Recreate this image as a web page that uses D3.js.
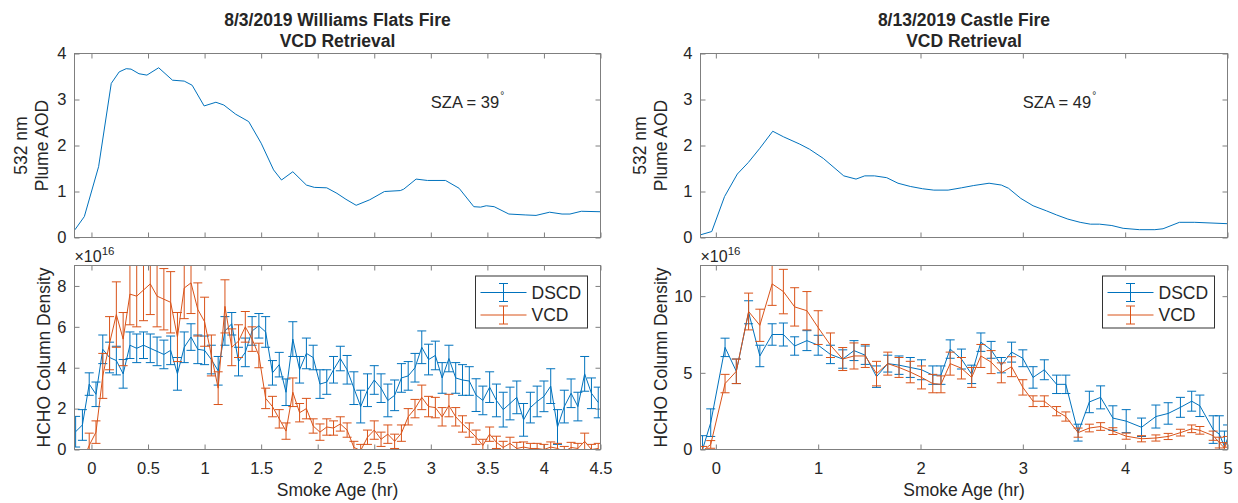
<!DOCTYPE html>
<html><head><meta charset="utf-8">
<script src="https://cdn.jsdelivr.net/npm/d3@7/dist/d3.min.js"></script>
<style>
body{margin:0;background:#fff}
text{font-family:"Liberation Sans",Arial,Helvetica,sans-serif;fill:#262626}
</style>
</head><body>
<svg id="c" width="1238" height="503"></svg>
<script>
// ---------------- DATA ----------------
const titles = [["8/3/2019 Williams Flats Fire","VCD Retrieval"],["8/13/2019 Castle Fire","VCD Retrieval"]];
const szaLabels = ["SZA = 39","SZA = 49"];
const legendLabels = ["DSCD","VCD"];

const wfXTicks = [0,0.5,1,1.5,2,2.5,3,3.5,4,4.5];
const cfXTicks = [0,1,2,3,4,5];
const aodYTicks = [0,1,2,3,4];
const wfHchoYTicks = [0,2,4,6,8];
const cfHchoYTicks = [0,5,10];

// Plume AOD, Williams Flats
const wfAodAge = [-0.147,-0.063,0.063,0.175,0.245,0.307,0.35,0.42,0.49,0.594,0.716,0.82,0.89,0.996,1.10,1.17,1.275,1.39,1.50,1.61,1.68,1.78,1.90,1.97,2.08,2.17,2.25,2.34,2.46,2.59,2.73,2.76,2.87,2.97,3.13,3.25,3.38,3.44,3.49,3.56,3.69,3.84,3.93,4.05,4.16,4.23,4.33,4.5];
const wfAod = [0.166,0.455,1.54,3.35,3.6,3.67,3.66,3.56,3.53,3.69,3.42,3.40,3.31,2.86,2.94,2.88,2.68,2.52,2.05,1.47,1.25,1.43,1.14,1.09,1.08,0.96,0.83,0.70,0.82,1.00,1.02,1.05,1.27,1.24,1.24,1.07,0.67,0.66,0.69,0.67,0.51,0.49,0.48,0.55,0.51,0.51,0.57,0.56];

// Plume AOD, Castle
const cfAodAge = [-0.147,-0.04,0.085,0.21,0.317,0.43,0.556,0.66,0.82,0.915,1.05,1.25,1.37,1.455,1.55,1.67,1.78,1.90,2.02,2.13,2.27,2.40,2.52,2.67,2.79,2.86,2.98,3.10,3.23,3.33,3.44,3.56,3.66,3.75,3.87,3.98,4.14,4.29,4.37,4.53,4.68,5.0];
const cfAod = [0.06,0.13,0.89,1.38,1.63,1.94,2.31,2.19,2.03,1.92,1.72,1.34,1.27,1.34,1.34,1.30,1.18,1.11,1.06,1.03,1.03,1.08,1.13,1.18,1.14,1.07,0.85,0.69,0.58,0.49,0.40,0.33,0.29,0.29,0.26,0.20,0.17,0.17,0.19,0.33,0.33,0.30];

// HCHO (x1e16), Williams Flats
const wfAge = [-0.14,-0.08,-0.02,0.04,0.10,0.16,0.22,0.28,0.34,0.40,
 0.46,0.52,0.58,0.64,0.70,0.76,0.82,0.88,0.94,1.00,
 1.06,1.12,1.18,1.24,1.30,1.36,1.42,1.48,1.54,1.60,
 1.66,1.72,1.78,1.84,1.90,1.96,2.02,2.08,2.14,2.20,
 2.26,2.32,2.38,2.44,2.50,2.56,2.62,2.68,2.74,2.80,
 2.86,2.92,2.98,3.04,3.10,3.16,3.22,3.28,3.34,3.40,
 3.46,3.52,3.58,3.64,3.70,3.76,3.82,3.88,3.94,4.00,
 4.06,4.12,4.18,4.24,4.30,4.36,4.42,4.48];
const wfDscd = [0.87,1.2,3.2,2.7,4.9,4.5,4.35,3.7,5.1,4.95,
 5.1,4.95,4.8,4.65,4.85,3.7,5.0,5.5,4.9,4.85,
 4.4,3.85,5.8,6.15,4.3,4.75,5.8,6.05,5.75,3.75,
 4.15,2.8,5.4,3.9,4.7,4.5,3.2,3.3,3.9,4.45,
 3.9,3.0,2.1,2.9,3.4,3.0,2.4,2.65,3.5,3.6,
 4.0,5.0,4.4,4.6,3.5,4.45,3.5,3.4,3.35,2.66,
 2.4,3.05,2.4,1.95,2.25,2.55,1.45,2.05,2.35,2.6,
 3.1,1.1,2.1,2.75,2.1,3.7,2.75,2.3];
const wfDscdErr = [0.75,0.75,0.55,0.6,0.7,0.75,0.7,0.7,0.65,0.7,
 0.65,0.7,0.7,0.7,0.7,0.8,0.75,0.65,0.7,0.7,
 0.7,0.7,0.7,0.55,0.7,0.7,0.7,0.6,0.75,0.6,
 0.6,0.65,0.85,0.65,0.75,0.6,0.7,0.6,0.65,0.6,
 0.7,0.8,0.8,0.8,0.7,0.7,0.8,0.75,0.7,0.7,
 0.7,0.8,0.75,0.7,0.75,0.65,0.75,0.75,0.7,0.8,
 0.7,0.75,0.8,0.85,0.8,0.8,0.8,0.75,0.75,0.75,
 0.85,0.85,0.8,0.7,0.7,0.85,0.75,0.75];
const wfVcd = [-1.8,-0.6,0.2,0.85,3.6,5.2,6.6,5.4,7.6,7.5,
 7.8,8.1,7.5,7.35,7.2,5.5,7.9,8.15,6.85,6.25,
 4.6,3.0,7.0,5.0,5.3,6.0,5.4,4.6,2.5,2.1,
 1.5,0.9,2.8,1.8,2.0,1.15,0.85,1.1,1.05,1.25,
 0.95,0.1,-0.05,0.6,0.95,0.5,0.75,0.4,0.8,1.6,
 2.0,2.55,2.1,2.05,1.6,2.15,1.6,1.25,0.95,0.6,
 0.2,0.75,0.35,0.1,0.3,0.05,0.12,0.05,0.05,0.0,
 0.12,0.05,-0.1,0.1,0.05,0.4,0.0,0.05];
const wfVcdErr = [0.6,0.6,0.6,0.55,1.1,1.3,1.6,1.3,1.5,1.5,
 1.5,1.5,1.5,1.5,1.5,1.2,1.5,1.5,1.3,1.2,
 1.0,0.8,1.3,0.9,0.8,0.75,0.6,0.6,0.5,0.5,
 0.45,0.4,0.7,0.45,0.5,0.35,0.4,0.4,0.35,0.35,
 0.35,0.3,0.3,0.35,0.45,0.35,0.45,0.35,0.4,0.4,
 0.45,0.6,0.5,0.5,0.45,0.55,0.45,0.4,0.35,0.35,
 0.3,0.35,0.3,0.3,0.3,0.3,0.25,0.25,0.25,0.25,
 0.25,0.25,0.25,0.25,0.25,0.4,0.25,0.25];

// HCHO (x1e16), Castle
const cfAge = [-0.13,-0.05,0.09,0.20,0.32,0.43,0.55,0.66,0.77,0.89,
 1.00,1.12,1.24,1.35,1.46,1.57,1.68,1.79,1.90,2.01,
 2.12,2.20,2.29,2.40,2.50,2.59,2.69,2.79,2.89,3.00,
 3.10,3.21,3.33,3.42,3.54,3.65,3.76,3.88,4.01,4.16,
 4.30,4.42,4.54,4.65,4.73,4.86,4.92,4.97,5.00];
const cfDscd = [0.0,1.75,6.66,5.1,8.95,6.1,7.5,7.5,6.75,7.1,
 6.8,6.2,5.9,6.45,6.15,4.75,5.6,5.5,5.35,5.2,
 4.85,4.85,6.55,5.9,4.9,7.0,6.5,5.5,6.35,5.95,
 4.7,5.2,4.25,4.25,1.1,3.1,3.4,2.05,1.85,1.45,
 2.15,2.35,2.75,3.15,2.85,1.3,1.0,0.2,0.7];
const cfDscdErr = [0.9,0.9,0.6,0.8,0.75,0.7,0.7,0.75,0.6,0.65,
 0.65,0.6,0.6,0.65,0.6,0.7,0.55,0.6,0.65,0.65,
 0.6,0.6,0.6,0.65,0.6,0.6,0.55,0.5,0.65,0.55,
 0.7,0.65,0.6,0.6,0.55,0.7,0.75,0.8,0.75,0.6,
 0.75,0.7,0.65,0.65,0.7,0.9,1.2,1.0,0.9];
const cfVcd = [-0.1,0.33,4.3,5.1,9.0,8.1,10.8,10.3,9.3,9.05,
 7.95,6.8,5.9,6.1,6.1,4.95,5.6,5.35,5.05,4.7,
 4.3,4.25,5.6,5.3,4.7,6.1,5.7,5.0,5.4,4.05,
 3.15,3.15,2.5,2.15,1.1,1.4,1.5,1.2,0.87,0.7,
 0.75,0.85,1.1,1.35,1.25,0.9,0.45,0.1,0.5];
const cfVcdErr = [0.3,0.25,0.6,0.8,1.2,1.05,1.4,1.45,1.25,1.25,
 1.1,0.8,0.75,0.85,0.75,0.8,0.75,0.65,0.7,0.75,
 0.6,0.55,0.75,0.7,0.65,0.75,0.75,0.65,0.65,0.5,
 0.35,0.35,0.3,0.3,0.3,0.25,0.25,0.22,0.2,0.2,
 0.2,0.2,0.22,0.25,0.25,0.3,0.35,0.35,0.35];

// ---------------- DRAWING ----------------
const BLUE = '#0072BD', ORANGE = '#D95319', AXC = '#7f7f7f';
const svg = d3.select('#c');
let clipId = 0;

function makePanel(o) {
  const x = d3.scaleLinear().domain(o.xd).range([o.x0, o.x1]);
  const y = d3.scaleLinear().domain(o.yd).range([o.y1, o.y0]);
  const g = svg.append('g');
  const id = 'clip' + (clipId++);
  svg.append('clipPath').attr('id', id).append('rect')
    .attr('x', o.x0).attr('y', o.y0).attr('width', o.x1 - o.x0).attr('height', o.y1 - o.y0);
  // axes
  const fmt = d => String(d);
  const ab = d3.axisBottom(x).tickValues(o.xt).tickSizeInner(-5).tickSizeOuter(0).tickPadding(12.5)
    .tickFormat(o.xLabels ? fmt : () => '');
  const at = d3.axisTop(x).tickValues(o.xt).tickSizeInner(-5).tickSizeOuter(0).tickFormat(() => '');
  const al = d3.axisLeft(y).tickValues(o.yt).tickSizeInner(-5).tickSizeOuter(0).tickPadding(8).tickFormat(fmt);
  const ar = d3.axisRight(y).tickValues(o.yt).tickSizeInner(-5).tickSizeOuter(0).tickFormat(() => '');
  const axes = [[ab, `translate(0,${o.y1})`], [at, `translate(0,${o.y0})`], [al, `translate(${o.x0},0)`], [ar, `translate(${o.x1},0)`]];
  axes.forEach(([a, t]) => {
    const ag = g.append('g').attr('transform', t).call(a);
    ag.select('.domain').remove();
    ag.selectAll('line').attr('stroke', AXC);
    ag.selectAll('text').attr('font-size', 16.5).attr('fill', '#262626')
      .attr('font-family', '"Liberation Sans",Arial,sans-serif');
  });
  const plot = g.append('g').attr('clip-path', `url(#${id})`);
  g.append('rect').attr('x', o.x0).attr('y', o.y0).attr('width', o.x1 - o.x0).attr('height', o.y1 - o.y0)
    .attr('fill', 'none').attr('stroke', AXC).attr('stroke-width', 1);
  return {x, y, g, plot};
}

function drawLine(p, xs, ys, color) {
  const line = d3.line().x((d, i) => p.x(xs[i])).y(d => p.y(d));
  p.plot.append('path').datum(ys).attr('d', line).attr('fill', 'none')
    .attr('stroke', color).attr('stroke-width', 1);
}

function drawErr(p, xs, ys, es, color) {
  drawLine(p, xs, ys, color);
  const cap = 4.5;
  const eg = p.plot.append('g').attr('stroke', color).attr('stroke-width', 1).attr('fill', 'none');
  ys.forEach((v, i) => {
    const cx = p.x(xs[i]), lo = p.y(v - es[i]), hi = p.y(v + es[i]);
    eg.append('path').attr('d',
      `M${cx},${lo}L${cx},${hi}M${cx - cap},${lo}L${cx + cap},${lo}M${cx - cap},${hi}L${cx + cap},${hi}`);
  });
}

function legend(x0, y0) {
  const lg = svg.append('g').attr('transform', `translate(${x0},${y0})`);
  lg.append('rect').attr('x', 0).attr('y', 0).attr('width', 112).attr('height', 52)
    .attr('fill', '#fff').attr('stroke', '#333').attr('stroke-width', 1);
  [BLUE, ORANGE].forEach((c, i) => {
    const cy = 16.5 + 22.5 * i;
    lg.append('line').attr('x1', 5).attr('x2', 51).attr('y1', cy).attr('y2', cy).attr('stroke', c);
    lg.append('path').attr('d', `M28,${cy - 9}L28,${cy + 9}M23.5,${cy - 9}L32.5,${cy - 9}M23.5,${cy + 9}L32.5,${cy + 9}`)
      .attr('stroke', c).attr('fill', 'none');
    lg.append('text').attr('x', 56).attr('y', cy).attr('dy', '0.36em').attr('font-size', 17.5).text(legendLabels[i]);
  });
}

function rotLabel(x, yc, txt) {
  svg.append('text').attr('transform', `translate(${x},${yc}) rotate(-90)`)
    .attr('text-anchor', 'middle').attr('dy', '0.36em').attr('font-size', 17.5).text(txt);
}

function exponent(x, y) {
  const t = svg.append('text').attr('x', x).attr('y', y).attr('font-size', 16);
  t.append('tspan').text('\u00d710');
  t.append('tspan').attr('dy', -7).attr('font-size', 11.5).text('16');
}

function sza(p, txt) {
  const t = p.g.append('text').attr('x', p.x(3.0)).attr('y', p.y(2.81)).attr('font-size', 16.5);
  t.append('tspan').text(txt);
  t.append('tspan').attr('dy', -9).attr('dx', 1).attr('font-size', 10).text('\u00b0');
}

const panels = [
  {xd: [-0.15, 4.5], xt: wfXTicks, x0: 74.5, x1: 600.5, title: titles[0], aodAge: wfAodAge, aod: wfAod,
   hy: [0, 9], hyt: wfHchoYTicks, age: wfAge, d: wfDscd, de: wfDscdErr, v: wfVcd, ve: wfVcdErr,
   lab1: 20.5, lab2: 41.5, hlab: 43.5, sza: szaLabels[0]},
  {xd: [-0.15, 5], xt: cfXTicks, x0: 700.5, x1: 1227.5, title: titles[1], aodAge: cfAodAge, aod: cfAod,
   hy: [0, 12], hyt: cfHchoYTicks, age: cfAge, d: cfDscd, de: cfDscdErr, v: cfVcd, ve: cfVcdErr,
   lab1: 640, lab2: 661, hlab: 661, sza: szaLabels[1]}
];

panels.forEach(P => {
  const cx = (P.x0 + P.x1) / 2;
  // titles
  svg.append('text').attr('x', cx).attr('y', 26).attr('text-anchor', 'middle')
    .attr('font-weight', 'bold').attr('font-size', 17.5).text(P.title[0]);
  svg.append('text').attr('x', cx).attr('y', 47).attr('text-anchor', 'middle')
    .attr('font-weight', 'bold').attr('font-size', 17.5).text(P.title[1]);
  // top panel: AOD
  const top = makePanel({xd: P.xd, yd: [0, 4], xt: P.xt, yt: aodYTicks, x0: P.x0, x1: P.x1, y0: 53.5, y1: 237.5, xLabels: false});
  drawLine(top, P.aodAge, P.aod, BLUE);
  sza(top, P.sza);
  rotLabel(P.lab1, 145.5, '532 nm');
  rotLabel(P.lab2, 145.5, 'Plume AOD');
  // bottom panel: HCHO
  const bot = makePanel({xd: P.xd, yd: P.hy, xt: P.xt, yt: P.hyt, x0: P.x0, x1: P.x1, y0: 265.5, y1: 449.5, xLabels: true});
  drawErr(bot, P.age, P.d, P.de, BLUE);
  drawErr(bot, P.age, P.v, P.ve, ORANGE);
  legend(P.x1 - 125, 276);
  rotLabel(P.hlab, 357.5, 'HCHO Column Density');
  exponent(P.x0, 261.5);
  svg.append('text').attr('x', cx).attr('y', 496).attr('text-anchor', 'middle')
    .attr('font-size', 17.5).text('Smoke Age (hr)');
});
</script>
</body></html>
